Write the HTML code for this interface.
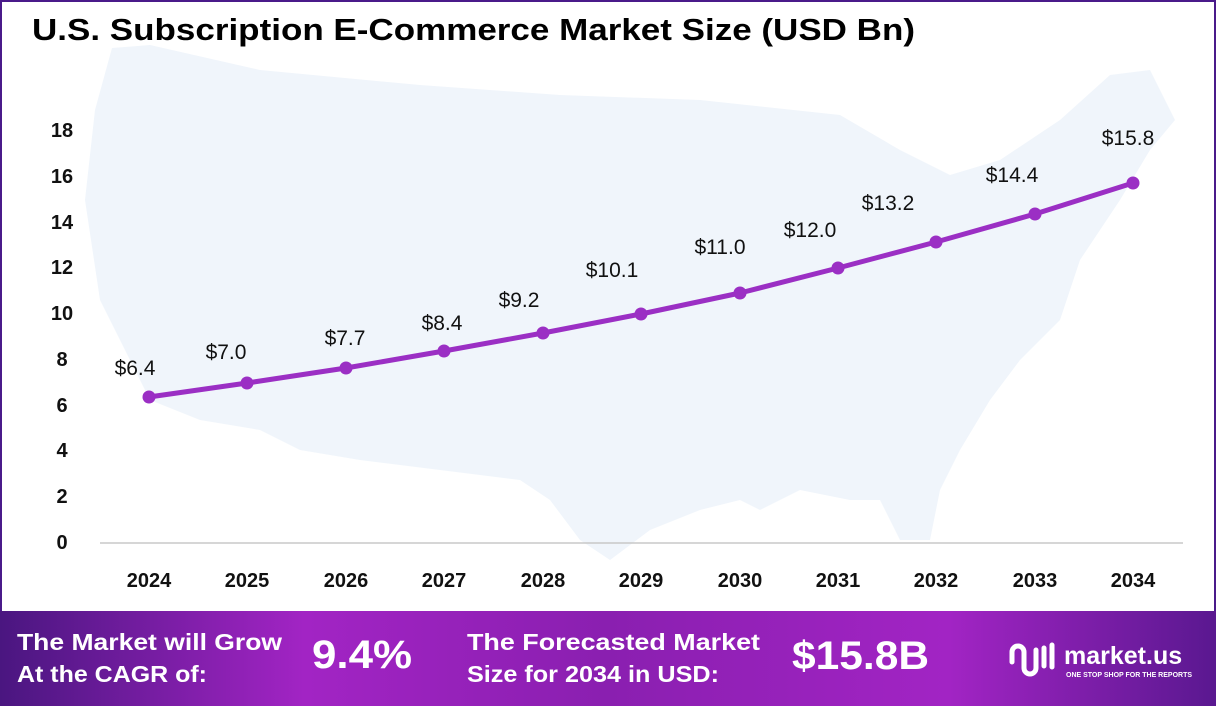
<!DOCTYPE html>
<html><head><meta charset="utf-8"><style>
body{margin:0;width:1216px;height:706px;overflow:hidden;background:#fff;font-family:"Liberation Sans",sans-serif}
</style></head><body>
<svg width="1216" height="706" viewBox="0 0 1216 706" xmlns="http://www.w3.org/2000/svg">
<defs>
<linearGradient id="bg" x1="0" x2="1" y1="0" y2="0">
<stop offset="0" stop-color="#4a1680"/><stop offset="0.25" stop-color="#a224c4"/><stop offset="0.5" stop-color="#8a1fb0"/><stop offset="0.78" stop-color="#a224c4"/><stop offset="1" stop-color="#5a1890"/>
</linearGradient>
</defs>
<rect x="1" y="1" width="1214" height="704" fill="#fff" stroke="#4a1a8a" stroke-width="2"/>
<path d="M112,48 L150,45 L260,70 L420,85 L560,95 L700,100 L840,115 L900,150 L950,175 L1000,160 L1060,120 L1110,75 L1150,70 L1175,120 L1150,150 L1120,200 L1080,260 L1060,320 L1020,360 L990,400 L960,450 L940,490 L930,540 L900,540 L880,500 L850,500 L800,490 L760,510 L740,500 L700,510 L650,530 L610,560 L580,540 L550,500 L520,480 L480,475 L440,470 L360,460 L300,450 L260,430 L200,420 L150,400 L100,300 L85,200 L95,110 Z" fill="#f0f5fb"/>
<text x="32" y="40" font-size="31" font-weight="bold" fill="#000" textLength="883" lengthAdjust="spacingAndGlyphs">U.S. Subscription E-Commerce Market Size (USD Bn)</text>
<line x1="100" y1="543" x2="1183" y2="543" stroke="#c8c8c8" stroke-width="1.5"/>
<g font-size="20" font-weight="bold" text-anchor="middle" fill="#111">
<text x="62" y="137">18</text><text x="62" y="183">16</text><text x="62" y="229">14</text><text x="62" y="274">12</text><text x="62" y="320">10</text><text x="62" y="366">8</text><text x="62" y="412">6</text><text x="62" y="457">4</text><text x="62" y="503">2</text><text x="62" y="549">0</text>
<g font-size="20">
<text x="149" y="587">2024</text><text x="247" y="587">2025</text><text x="346" y="587">2026</text><text x="444" y="587">2027</text><text x="543" y="587">2028</text><text x="641" y="587">2029</text><text x="740" y="587">2030</text><text x="838" y="587">2031</text><text x="936" y="587">2032</text><text x="1035" y="587">2033</text><text x="1133" y="587">2034</text>
</g></g>
<polyline fill="none" stroke="#9b2fc4" stroke-width="5" stroke-linejoin="round" points="149,397 247,383 346,368 444,351 543,333 641,314 740,293 838,268 936,242 1035,214 1133,183"/>
<g fill="#9b2fc4">
<circle cx="149" cy="397" r="6.5"/><circle cx="247" cy="383" r="6.5"/><circle cx="346" cy="368" r="6.5"/><circle cx="444" cy="351" r="6.5"/><circle cx="543" cy="333" r="6.5"/><circle cx="641" cy="314" r="6.5"/><circle cx="740" cy="293" r="6.5"/><circle cx="838" cy="268" r="6.5"/><circle cx="936" cy="242" r="6.5"/><circle cx="1035" cy="214" r="6.5"/><circle cx="1133" cy="183" r="6.5"/>
</g>
<g font-size="21" text-anchor="middle" fill="#111">
<text x="135" y="375">$6.4</text><text x="226" y="359">$7.0</text><text x="345" y="345">$7.7</text><text x="442" y="330">$8.4</text><text x="519" y="307">$9.2</text><text x="612" y="277">$10.1</text><text x="720" y="254">$11.0</text><text x="810" y="237">$12.0</text><text x="888" y="210">$13.2</text><text x="1012" y="182">$14.4</text><text x="1128" y="145">$15.8</text>
</g>
<rect x="0" y="611" width="1216" height="95" fill="url(#bg)"/>
<g fill="#fff" font-weight="bold">
<text x="17" y="650" font-size="23" textLength="265" lengthAdjust="spacingAndGlyphs">The Market will Grow</text>
<text x="17" y="682" font-size="23" textLength="190" lengthAdjust="spacingAndGlyphs">At the CAGR of:</text>
<text x="312" y="668" font-size="40" textLength="100" lengthAdjust="spacingAndGlyphs">9.4%</text>
<text x="467" y="650" font-size="23" textLength="293" lengthAdjust="spacingAndGlyphs">The Forecasted Market</text>
<text x="467" y="682" font-size="23" textLength="252" lengthAdjust="spacingAndGlyphs">Size for 2034 in USD:</text>
<text x="792" y="669" font-size="40" textLength="137" lengthAdjust="spacingAndGlyphs">$15.8B</text>
<text x="1064" y="664" font-size="25">market.us</text>
<text x="1066" y="677" font-size="7">ONE STOP SHOP FOR THE REPORTS</text>
<path d="M1012,662 v-10 a6,6 0 0 1 12,0 v16 a6,6 0 0 0 12,0 v-18 M1044,648 v18 M1052,645 v22" stroke="#fff" stroke-width="5" fill="none" stroke-linecap="round"/>
</g>
</svg>
</body></html>
